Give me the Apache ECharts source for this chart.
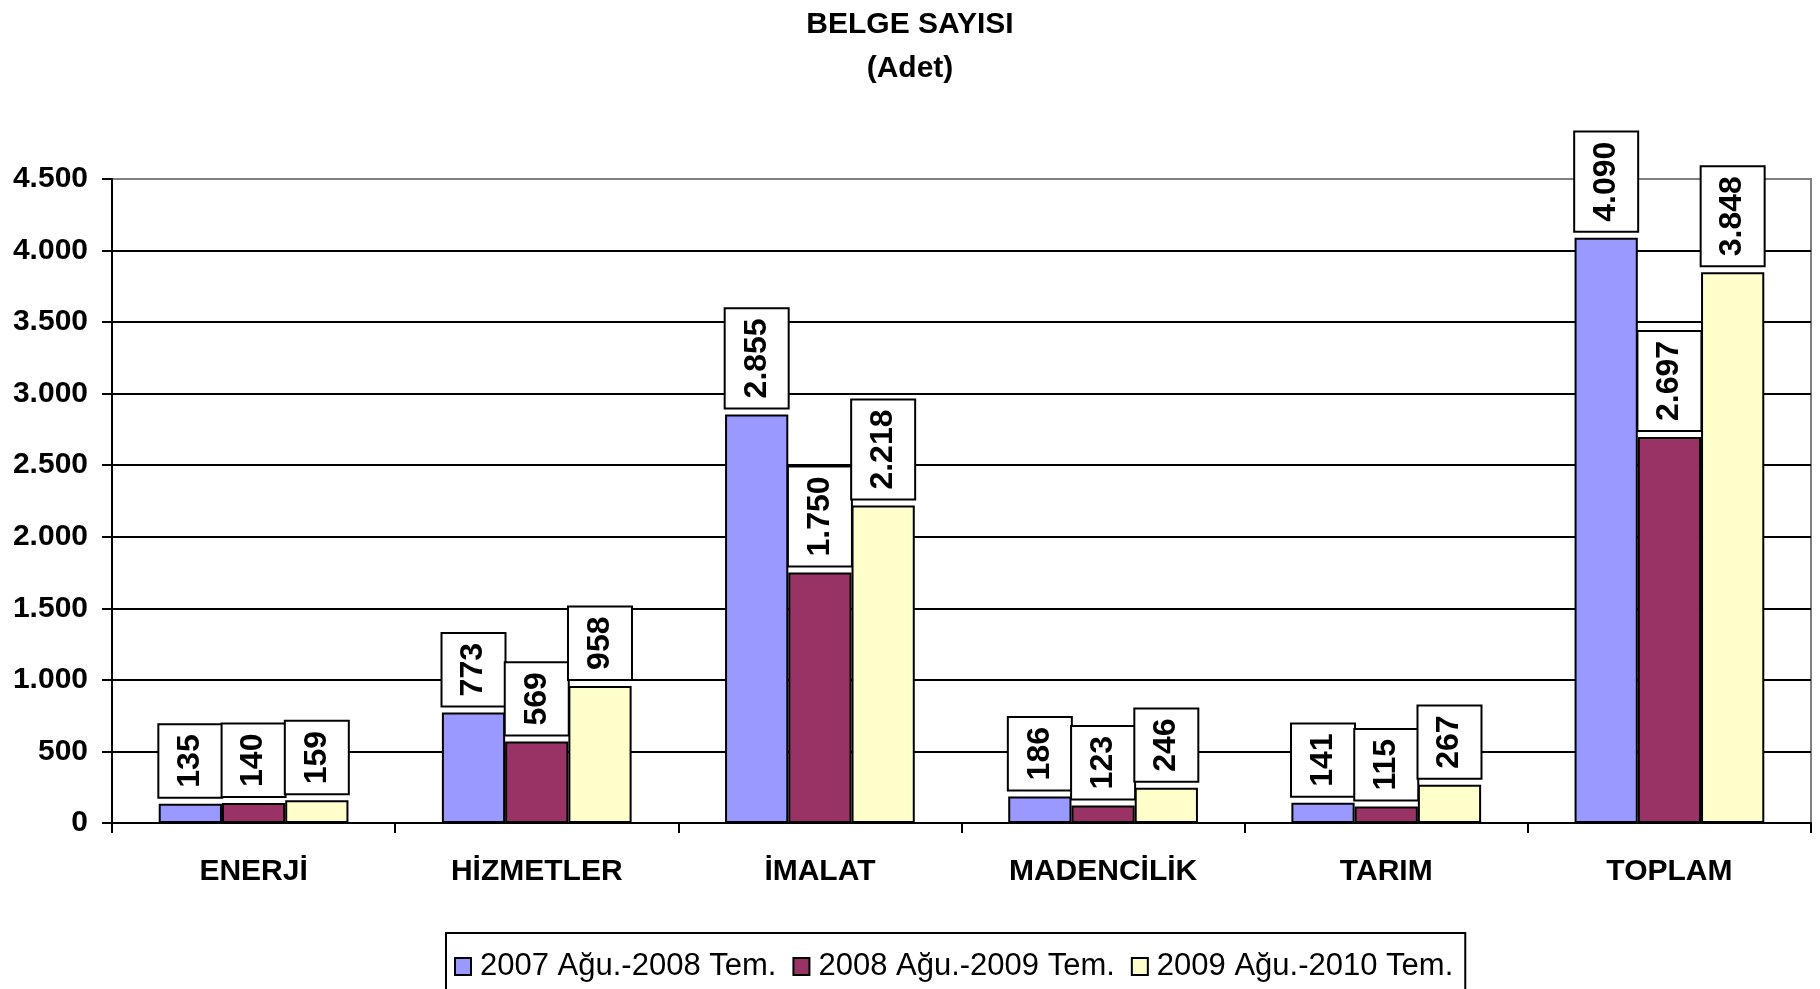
<!DOCTYPE html>
<html>
<head>
<meta charset="utf-8">
<script src="https://cdn.jsdelivr.net/npm/echarts@6/dist/echarts.min.js"></script>
<style>
  html, body { margin: 0; padding: 0; background: #fff; }
  #chart { width: 1820px; height: 989px; }
</style>
</head>
<body>
<div id="chart"></div>
<script>
const categories = ["ENERJİ", "HİZMETLER", "İMALAT", "MADENCİLİK", "TARIM", "TOPLAM"];
const seriesNames = ["2007 Ağu.-2008 Tem.", "2008 Ağu.-2009 Tem.", "2009 Ağu.-2010 Tem."];
const values2007 = [135, 773, 2855, 186, 141, 4090];
const values2008 = [140, 569, 1750, 123, 115, 2697];
const values2009 = [159, 958, 2218, 246, 267, 3848];
const colors = ["#9999FF", "#993366", "#FFFFCC"];

// 4090 -> "4.090"
function fmt(v) {
  return String(v).replace(/\B(?=(\d{3})+(?!\d))/g, ".");
}

const font = "'Liberation Sans', Arial, sans-serif";

function makeSeries(name, data, color) {
  return {
    name: name,
    type: "bar",
    data: data,
    barGap: "0%",
    barCategoryGap: "33%",
    itemStyle: { color: color, borderColor: "#000", borderWidth: 2 },
    label: {
      show: true,
      position: "top",
      distance: 7,
      rotate: 90,
      align: "left",
      verticalAlign: "middle",
      formatter: (p) => fmt(p.value),
      fontFamily: font,
      fontWeight: "bold",
      fontSize: 32,
      lineHeight: 32,
      color: "#000",
      backgroundColor: "#fff",
      borderColor: "#000",
      borderWidth: 2,
      padding: [15, 9, 15, 9],
    },
  };
}

const chart = echarts.init(document.getElementById("chart"));
chart.setOption({
  animation: false,
  title: {
    text: "BELGE SAYISI\n(Adet)",
    left: "center",
    top: -2,
    textStyle: {
      fontFamily: font,
      fontWeight: "bold",
      fontSize: 30,
      lineHeight: 44,
      color: "#000",
    },
  },
  legend: {
    data: seriesNames,
    icon: "rect",
    left: 446,
    top: 933,
    padding: [18, 12, 14, 8],
    itemGap: 16,
    itemWidth: 16,
    itemHeight: 17,
    itemStyle: { borderColor: "#000", borderWidth: 2 },
    backgroundColor: "#fff",
    borderColor: "#000",
    borderWidth: 2,
    textStyle: { fontFamily: font, fontSize: 31, color: "#000", padding: [0, 0, 0, 4] },
  },
  grid: {
    left: 112,
    right: 9,
    top: 179,
    bottom: 166,
    show: true,
    borderColor: "#808080",
    borderWidth: 2,
  },
  xAxis: {
    type: "category",
    data: categories,
    axisLine: { lineStyle: { color: "#000", width: 2 } },
    axisTick: { show: true, length: 10, lineStyle: { color: "#000", width: 2 } },
    axisLabel: {
      margin: 34,
      fontFamily: font,
      fontWeight: "bold",
      fontSize: 30,
      color: "#000",
    },
  },
  yAxis: {
    type: "value",
    min: 0,
    max: 4500,
    interval: 500,
    axisLine: { show: true, lineStyle: { color: "#000", width: 2 } },
    axisTick: { show: true, length: 10, lineStyle: { color: "#000", width: 2 } },
    splitLine: { show: true, showMaxLine: false, lineStyle: { color: "#000", width: 2 } },
    axisLabel: {
      margin: 24,
      formatter: fmt,
      fontFamily: font,
      fontWeight: "bold",
      fontSize: 30,
      color: "#000",
    },
  },
  series: [
    makeSeries(seriesNames[0], values2007, colors[0]),
    makeSeries(seriesNames[1], values2008, colors[1]),
    makeSeries(seriesNames[2], values2009, colors[2]),
  ],
});
</script>
</body>
</html>
